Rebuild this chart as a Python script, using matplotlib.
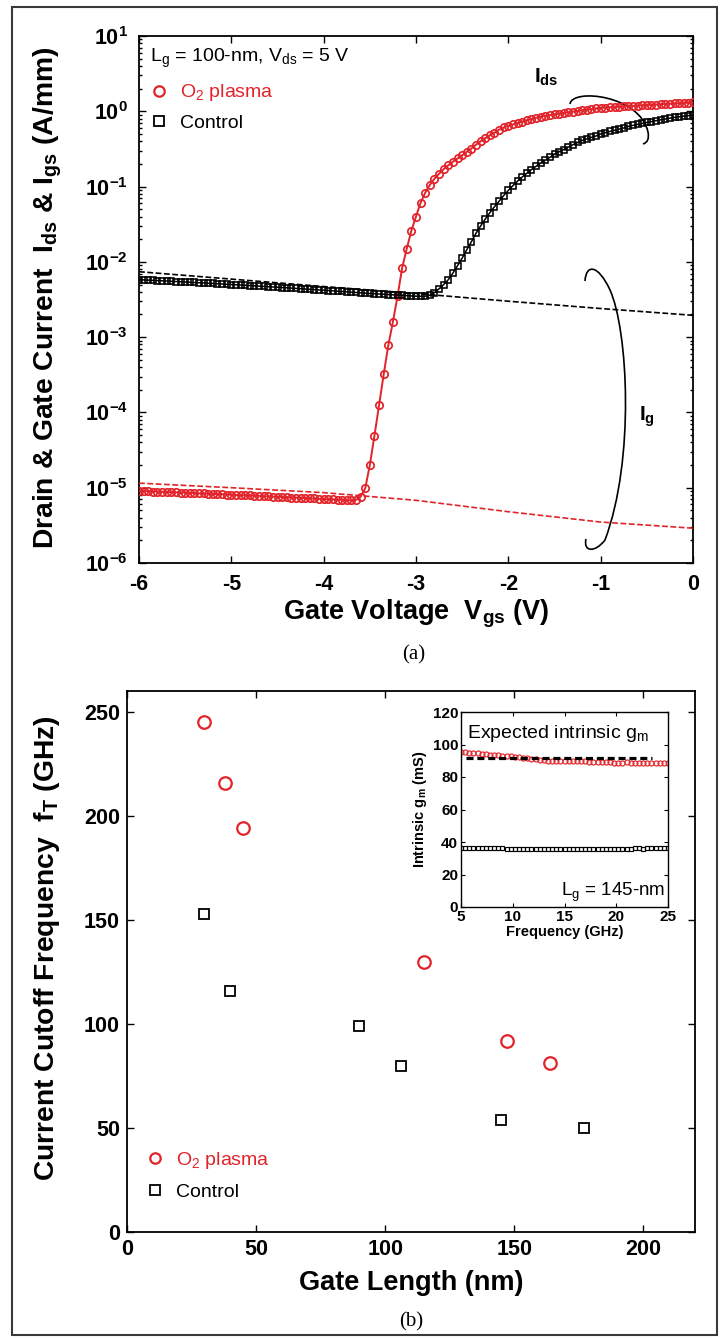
import numpy as np
import matplotlib
matplotlib.use('Agg')
import matplotlib.pyplot as plt
from matplotlib.path import Path
from matplotlib.patches import PathPatch, Rectangle
from matplotlib.lines import Line2D
from matplotlib.ticker import NullFormatter

plt.rcParams['font.family'] = ['Liberation Sans', 'DejaVu Sans']
plt.rcParams['mathtext.fontset'] = 'custom'
plt.rcParams['mathtext.rm'] = 'Liberation Sans'
plt.rcParams['mathtext.it'] = 'Liberation Sans:italic'
plt.rcParams['mathtext.bf'] = 'Liberation Sans:bold'
plt.rcParams['axes.linewidth'] = 1.3

RED = '#e2232a'

# ---------------- data: panel (a) ----------------
vgs = np.round(np.arange(-6.0, 0.0001, 0.05), 2)   # 0.05 V sweep grid
ids_o2 = [
    9.1e-6, 9.0e-6, 9.0e-6, 8.9e-6, 8.9e-6, 8.8e-6, 8.8e-6, 8.7e-6, 8.7e-6, 8.6e-6,
    8.6e-6, 8.5e-6, 8.5e-6, 8.4e-6, 8.4e-6, 8.3e-6, 8.3e-6, 8.2e-6, 8.2e-6, 8.1e-6,
    8.1e-6, 8.0e-6, 8.0e-6, 7.9e-6, 7.9e-6, 7.8e-6, 7.8e-6, 7.7e-6, 7.7e-6, 7.6e-6,
    7.6e-6, 7.5e-6, 7.5e-6, 7.4e-6, 7.4e-6, 7.3e-6, 7.3e-6, 7.2e-6, 7.2e-6, 7.1e-6,
    7.1e-6, 7.0e-6, 7.0e-6, 6.9e-6, 6.9e-6, 6.8e-6, 6.8e-6, 6.9e-6, 7.6e-6, 9.8e-6,
    2.0e-5, 4.9e-5, 1.25e-4, 3.2e-4, 7.8e-4, 1.6e-3, 3.5e-3, 8.3e-3, 1.5e-2, 2.6e-2,
    4.0e-2, 6.1e-2, 8.3e-2, 0.105, 0.127, 0.148, 0.170, 0.192, 0.214, 0.236,
    0.26, 0.29, 0.32, 0.36, 0.40, 0.44, 0.48, 0.52, 0.57, 0.61,
    0.64, 0.67, 0.70, 0.73, 0.76, 0.79, 0.82, 0.85, 0.87, 0.89,
    0.91, 0.93, 0.95, 0.97, 0.99, 1.01, 1.03, 1.05, 1.07, 1.09,
    1.11, 1.12, 1.13, 1.14, 1.15, 1.16, 1.17, 1.18, 1.19, 1.20,
    1.21, 1.22, 1.23, 1.24, 1.25, 1.26, 1.27, 1.28, 1.29, 1.30, 1.31]
ids_ctrl = [
    5.80e-3, 5.76e-3, 5.72e-3, 5.68e-3, 5.64e-3, 5.60e-3, 5.56e-3, 5.52e-3, 5.48e-3, 5.44e-3,
    5.40e-3, 5.36e-3, 5.32e-3, 5.28e-3, 5.24e-3, 5.20e-3, 5.16e-3, 5.12e-3, 5.08e-3, 5.04e-3,
    5.00e-3, 4.96e-3, 4.92e-3, 4.88e-3, 4.84e-3, 4.80e-3, 4.76e-3, 4.72e-3, 4.68e-3, 4.64e-3,
    4.60e-3, 4.56e-3, 4.52e-3, 4.48e-3, 4.44e-3, 4.40e-3, 4.36e-3, 4.32e-3, 4.28e-3, 4.24e-3,
    4.20e-3, 4.16e-3, 4.12e-3, 4.08e-3, 4.04e-3, 4.00e-3, 3.96e-3, 3.92e-3, 3.88e-3, 3.84e-3,
    3.80e-3, 3.77e-3, 3.74e-3, 3.71e-3, 3.68e-3, 3.65e-3, 3.62e-3, 3.59e-3, 3.56e-3, 3.53e-3,
    3.50e-3, 3.49e-3, 3.50e-3, 3.6e-3, 3.9e-3, 4.4e-3, 5.0e-3, 5.8e-3, 7.1e-3, 8.9e-3,
    1.12e-2, 1.45e-2, 1.85e-2, 2.4e-2, 3.0e-2, 3.7e-2, 4.5e-2, 5.4e-2, 6.4e-2, 7.6e-2,
    8.9e-2, 0.103, 0.118, 0.134, 0.150, 0.168, 0.186, 0.205, 0.224, 0.244,
    0.27, 0.29, 0.31, 0.335, 0.36, 0.385, 0.41, 0.43, 0.45, 0.47,
    0.50, 0.52, 0.54, 0.56, 0.58, 0.60, 0.63, 0.65, 0.67, 0.69,
    0.71, 0.73, 0.75, 0.77, 0.79, 0.81, 0.83, 0.845, 0.86, 0.875, 0.89]
vg_ig = [-6, -5, -4, -3, -2, -1, 0]
ig_ctrl = [7.4e-3, 5.9e-3, 4.7e-3, 3.8e-3, 3.0e-3, 2.4e-3, 1.95e-3]
ig_o2 = [1.15e-5, 1.0e-5, 8.6e-6, 6.8e-6, 4.8e-6, 3.5e-6, 2.9e-6]
xticks_a = [-6, -5, -4, -3, -2, -1, 0]
yticks_a = [1e-6, 1e-5, 1e-4, 1e-3, 1e-2, 1e-1, 1e0, 1e1]
yticklabels_a = [r'$\mathbf{10^{-6}}$', r'$\mathbf{10^{-5}}$', r'$\mathbf{10^{-4}}$',
                 r'$\mathbf{10^{-3}}$', r'$\mathbf{10^{-2}}$', r'$\mathbf{10^{-1}}$',
                 r'$\mathbf{10^{0}}$', r'$\mathbf{10^{1}}$']

# ---------------- data: panel (b) ----------------
lg_o2 = [30, 38, 45, 115, 147, 164]
ft_o2 = [245, 216, 194, 130, 92, 81]
lg_ctrl = [30, 40, 90, 106, 145, 177]
ft_ctrl = [153, 116, 99, 80, 54, 50]

# inset: intrinsic gm vs frequency (Lg = 145 nm)
freq = np.round(np.arange(5.0, 25.0001, 0.4), 1)
gm_o2 = [95.5, 95.3, 95.0, 94.8, 94.5, 94.3, 94.0, 93.8, 93.6, 93.4,
         93.2, 93.0, 92.7, 92.5, 92.2, 91.9, 91.6, 91.2, 90.9, 90.6,
         90.2, 89.9, 89.7, 89.9, 90.1, 90.0, 89.8, 89.6, 89.8, 89.9,
         89.7, 89.4, 89.1, 89.0, 89.2, 89.3, 89.1, 88.9, 88.8, 88.9,
         89.0, 88.8, 88.7, 88.8, 88.9, 88.7, 88.6, 88.7, 88.8, 88.6, 88.7]
gm_ctrl = [36.6, 36.5, 36.5, 36.4, 36.4, 36.3, 36.3, 36.2, 36.2, 36.1,
           36.1, 36.0, 36.0, 36.0, 35.9, 35.9, 35.9, 35.8, 35.8, 35.8,
           35.8, 35.8, 35.7, 35.7, 35.7, 35.7, 35.8, 35.8, 35.8, 35.7,
           35.7, 35.6, 35.6, 35.7, 35.7, 35.8, 35.8, 35.9, 35.9, 36.0,
           36.0, 36.0, 36.1, 36.1, 36.0, 36.1, 36.2, 36.2, 36.3, 36.4, 36.5]
gm_expected_f = [5.5, 23.5]
gm_expected = [92, 92]

# ---------------- figure ----------------
W, H = 724, 1339
fig = plt.figure(figsize=(W / 100, H / 100), dpi=100)


def rect(l, t, r, b):
    return [l / W, 1 - b / H, (r - l) / W, (b - t) / H]


def ftext(px, py, s, **kw):
    fig.text(px / W, 1 - py / H, s, ha='center', va='center', **kw)


# ---------- panel (a) ----------
ax1 = fig.add_axes(rect(139, 36, 693, 563))
ax1.set_yscale('log')
ax1.plot(vgs, ids_o2, '-', color=RED, lw=1.4, marker='o', ms=5.3,
         mfc='none', mec=RED, mew=1.25, zorder=3)
ax1.plot(vgs, ids_ctrl, '-', color='k', lw=1.1, marker='s', ms=4.6,
         mfc='none', mec='k', mew=1.15, zorder=3)
ax1.plot(vg_ig, ig_ctrl, color='k', lw=1.2, dashes=(3.5, 1.5), zorder=4)
ax1.plot(vg_ig, ig_o2, color=RED, lw=1.2, dashes=(3.5, 1.5), zorder=4)
ax1.set_xlim(-6, 0)
ax1.set_ylim(1e-6, 1e1)
ax1.set_xticks(xticks_a)
ax1.set_xticklabels([str(v) for v in xticks_a], fontsize=15.5, fontweight='bold')
ax1.set_yticks(yticks_a)
ax1.set_yticklabels(yticklabels_a, fontsize=15.5)
ax1.yaxis.set_minor_formatter(NullFormatter())
ax1.tick_params(which='both', direction='in', top=True, right=True, width=1.0)
ax1.tick_params(which='major', length=5)
ax1.tick_params(which='minor', length=2.5)
ax1.tick_params(axis='x', pad=8)
ax1.tick_params(axis='y', pad=8)

ax1.text(0.02, 0.958, r'L$_\mathrm{g}$ = 100-nm, V$_\mathrm{ds}$ = 5 V',
         transform=ax1.transAxes, fontsize=14, ha='left', va='center')
h1 = [Line2D([], [], ls='none', marker='o', ms=7.5, mfc='none', mec=RED, mew=1.6),
      Line2D([], [], ls='none', marker='s', ms=7, mfc='none', mec='k', mew=1.3)]
leg1 = ax1.legend(h1, [r'O$_2$ plasma', 'Control'], loc='upper left',
                  bbox_to_anchor=(0.018, 0.912), frameon=False, fontsize=14,
                  handlelength=1.0, handletextpad=0.6, labelspacing=0.55,
                  borderpad=0, borderaxespad=0)
leg1.get_texts()[0].set_color(RED)


# annotation arcs (axes-pixel shapes)
def px2ax(l, t, r, b, pts):
    return [((x - l) / (r - l), 1 - (y - t) / (b - t)) for x, y in pts]


ids_arc = px2ax(139, 36, 693, 563,
                [(570, 104), (572, 88), (640, 95), (648, 132), (650, 142), (643, 144)])
codes = [Path.MOVETO, Path.CURVE4, Path.CURVE4, Path.CURVE4, Path.CURVE3, Path.CURVE3]
ax1.add_patch(PathPatch(Path(ids_arc, codes), transform=ax1.transAxes,
                        fill=False, lw=1.2, ec='k', clip_on=False))
ig_arc = px2ax(139, 36, 693, 563,
               [(585, 281), (586, 264), (598, 264), (610, 290),
                (628, 330), (635, 460), (605, 540),
                (595, 553), (583, 552), (586, 539)])
codes2 = [Path.MOVETO] + [Path.CURVE4] * 9
ax1.add_patch(PathPatch(Path(ig_arc, codes2), transform=ax1.transAxes,
                        fill=False, lw=1.2, ec='k', clip_on=False))
ax1.text(0.736, 0.922, r'I$_\mathbf{ds}$', transform=ax1.transAxes, fontsize=15,
         fontweight='bold', ha='center', va='center')
ax1.text(0.917, 0.278, r'I$_\mathbf{g}$', transform=ax1.transAxes, fontsize=15,
         fontweight='bold', ha='center', va='center')

ftext(48, 298, r'Drain & Gate Current  I$_\mathbf{ds}$ & I$_\mathbf{gs}$ (A/mm)',
      fontsize=20.3, fontweight='bold', rotation=90)
ftext(416, 614, r'Gate Voltage  V$_\mathbf{gs}$ (V)', fontsize=19.5, fontweight='bold')
ftext(414, 655, '(a)', fontsize=15, family=['Liberation Serif', 'DejaVu Serif'])

# ---------- panel (b) ----------
ax2 = fig.add_axes(rect(127, 691, 695, 1232))
ax2.plot(lg_o2, ft_o2, ls='none', marker='o', ms=9, mfc='none', mec=RED, mew=1.6)
ax2.plot(lg_ctrl, ft_ctrl, ls='none', marker='s', ms=7.8, mfc='none', mec='k', mew=1.3)
ax2.set_xlim(0, 220)
ax2.set_ylim(0, 260)
ax2.set_xticks([0, 50, 100, 150, 200])
ax2.set_xticklabels(['0', '50', '100', '150', '200'], fontsize=15.5, fontweight='bold')
ax2.set_yticks([0, 50, 100, 150, 200, 250])
ax2.set_yticklabels(['0', '50', '100', '150', '200', '250'], fontsize=15.5, fontweight='bold')
ax2.tick_params(direction='in', top=True, right=True, length=5, width=1.0)
ax2.tick_params(axis='x', pad=5)
ax2.tick_params(axis='y', pad=5)
h2 = [Line2D([], [], ls='none', marker='o', ms=7.5, mfc='none', mec=RED, mew=1.6),
      Line2D([], [], ls='none', marker='s', ms=7, mfc='none', mec='k', mew=1.3)]
leg2 = ax2.legend(h2, [r'O$_2$ plasma', 'Control'], loc='upper left',
                  bbox_to_anchor=(0.032, 0.152), frameon=False, fontsize=14,
                  handlelength=1.0, handletextpad=0.6, labelspacing=0.65,
                  borderpad=0, borderaxespad=0)
leg2.get_texts()[0].set_color(RED)

ftext(47, 948, r'Current Cutoff Frequency  f$_\mathbf{T}$ (GHz)',
      fontsize=20.3, fontweight='bold', rotation=90)
ftext(411, 1283, 'Gate Length (nm)', fontsize=19.5, fontweight='bold')
ftext(411, 1322, '(b)', fontsize=15, family=['Liberation Serif', 'DejaVu Serif'])

# ---------- inset ----------
ax3 = fig.add_axes(rect(461, 712, 668, 907))
ax3.plot(freq, gm_o2, ls='none', marker='o', ms=3.6, mfc='none', mec=RED, mew=0.85)
ax3.plot(freq, gm_ctrl, ls='none', marker='s', ms=3.2, mfc='none', mec='k', mew=0.85)
ax3.plot(gm_expected_f, gm_expected, color='k', lw=2.3, dashes=(2.2, 1.2))
ax3.set_xlim(5, 25)
ax3.set_ylim(0, 120)
ax3.set_xticks([5, 10, 15, 20, 25])
ax3.set_xticklabels(['5', '10', '15', '20', '25'], fontsize=11, fontweight='bold')
ax3.set_yticks([0, 20, 40, 60, 80, 100, 120])
ax3.set_yticklabels(['0', '20', '40', '60', '80', '100', '120'], fontsize=11, fontweight='bold')
ax3.tick_params(direction='in', top=True, right=True, length=3, width=0.8, pad=2)
for s in ax3.spines.values():
    s.set_linewidth(1.0)
ax3.set_xlabel('Frequency (GHz)', fontsize=10.5, fontweight='bold', labelpad=1)
ax3.set_ylabel(r'Intrinsic g$_\mathbf{m}$ (mS)', fontsize=10.5, fontweight='bold', labelpad=3)
ax3.text(0.03, 0.892, r'Expected intrinsic g$_\mathrm{m}$', transform=ax3.transAxes,
         fontsize=14, ha='left', va='center')
ax3.text(0.985, 0.077, r'L$_\mathrm{g}$ = 145-nm', transform=ax3.transAxes,
         fontsize=13.5, ha='right', va='center')

# outer frame
fig.patches.append(Rectangle((12 / W, 1 - 1335 / H), (717 - 12) / W, (1335 - 7) / H,
                             transform=fig.transFigure, fill=False, lw=1.5, ec='#3a3a3a'))

fig.savefig('out.png', dpi=100)
